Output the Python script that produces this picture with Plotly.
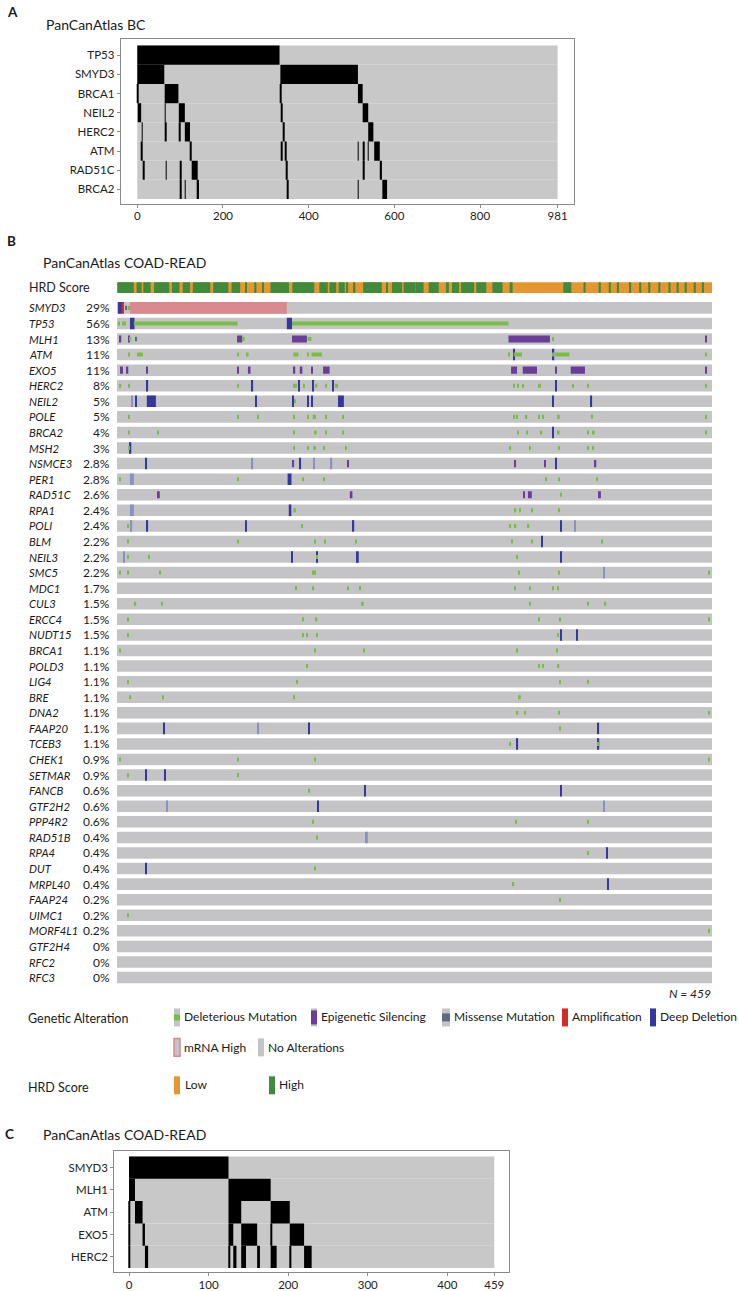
import plotly.graph_objects as go

W, H = 739, 1291
FONT = "Lato"

# ---------------- Panel A data (PanCanAtlas BC, 981 samples) ----------------
a_genes = ["TP53", "SMYD3", "BRCA1", "NEIL2", "HERC2", "ATM", "RAD51C", "BRCA2"]
a_n = 981
a_ticks = [0, 200, 400, 600, 800, 981]
# altered sample runs: (gene, first sample, number of samples)
a_altered = [
    ("TP53", 0, 332),
    ("SMYD3", 0, 63), ("SMYD3", 334, 181),
    ("BRCA1", 0, 1), ("BRCA1", 64, 32), ("BRCA1", 334, 1.5), ("BRCA1", 515, 11),
    ("NEIL2", 1, 8), ("NEIL2", 64, 1.5), ("NEIL2", 97, 14), ("NEIL2", 336, 2), ("NEIL2", 526, 13),
    ("HERC2", 11, 1.5), ("HERC2", 65, 1.5), ("HERC2", 98, 1.5), ("HERC2", 111, 12),
    ("HERC2", 341, 1.5), ("HERC2", 539, 12),
    ("ATM", 10, 1.5), ("ATM", 124, 1.5), ("ATM", 336, 1.5), ("ATM", 345, 1.5),
    ("ATM", 515, 1), ("ATM", 528, 1), ("ATM", 539, 1), ("ATM", 553, 13),
    ("RAD51C", 13, 2), ("RAD51C", 67, 1.5), ("RAD51C", 100, 1.5), ("RAD51C", 127, 14),
    ("RAD51C", 348, 1.5), ("RAD51C", 528, 1), ("RAD51C", 566, 5),
    ("BRCA2", 100, 1.5), ("BRCA2", 111, 1.5), ("BRCA2", 140, 4), ("BRCA2", 350, 2),
    ("BRCA2", 515, 1.5), ("BRCA2", 572, 11),
]

# ---------------- Panel B data (PanCanAtlas COAD-READ oncoprint, 459 samples) ----------------
b_n = 459
b_genes = ["SMYD3", "TP53", "MLH1", "ATM", "EXO5", "HERC2", "NEIL2", "POLE", "BRCA2", "MSH2",
           "NSMCE3", "PER1", "RAD51C", "RPA1", "POLI", "BLM", "NEIL3", "SMC5", "MDC1", "CUL3",
           "ERCC4", "NUDT15", "BRCA1", "POLD3", "LIG4", "BRE", "DNA2", "FAAP20", "TCEB3", "CHEK1",
           "SETMAR", "FANCB", "GTF2H2", "PPP4R2", "RAD51B", "RPA4", "DUT", "MRPL40", "FAAP24",
           "UIMC1", "MORF4L1", "GTF2H4", "RFC2", "RFC3"]
b_pct = ["29%", "56%", "13%", "11%", "11%", "8%", "5%", "5%", "4%", "3%",
         "2.8%", "2.8%", "2.6%", "2.4%", "2.4%", "2.2%", "2.2%", "2.2%", "1.7%", "1.5%",
         "1.5%", "1.5%", "1.1%", "1.1%", "1.1%", "1.1%", "1.1%", "1.1%", "1.1%", "0.9%",
         "0.9%", "0.6%", "0.6%", "0.6%", "0.4%", "0.4%", "0.4%", "0.4%", "0.2%",
         "0.2%", "0.2%", "0%", "0%", "0%"]

# HRD score track: runs of "High" samples (start, length); the rest are "Low"
hrd_high_start = [0.4, 15.1, 20.3, 28.6, 42.4, 50.7, 58.5, 74.2, 88.4, 98.9, 105.9, 111.9,
                  118.4, 135.3, 156.1, 163.9, 171, 177, 182.7, 189.9, 207.6, 212.1, 221.1,
                  230.3, 240.4, 253.7, 258.4, 265.4, 277.1, 289.6, 302.9,
                  344.3, 359.9, 371.6, 379.4, 385.6, 395, 402.8, 409.8, 417.6, 425.4, 431.7,
                  437.9, 444.9, 451.2]
hrd_high_len = [12.6, 3.9, 5.7, 11.7, 5.8, 5.7, 13.5, 11.7, 6.6, 1.3, 1.6, 1.3,
                14.3, 16.9, 6.5, 5.2, 4.7, 1.3, 1.2, 14.4, 1.2, 7.8, 9.1,
                6.2, 7.8, 2.3, 5.5, 10.1, 7.8, 7.8, 2.3,
                6.2, 1.6, 1.6, 1.6, 1.6, 1.6, 1.6, 1.6, 1.6, 1.6, 1.6,
                1.6, 1.6, 1.6]

# alterations: (gene, first sample, number of samples)
mrna_high = [("SMYD3", 10, 121)]
amplification = [("SMYD3", 3.9, 1.5)]
missense = [("SMYD3", 6.2, 1.6), ("MLH1", 14, 1)]
epigenetic = [
    ("MLH1", 2.3, 1), ("MLH1", 8.5, 1), ("MLH1", 92.6, 4), ("MLH1", 135, 11.5), ("MLH1", 302, 32),
    ("MLH1", 453.6, 1),
    ("EXO5", 2.3, 2.3), ("EXO5", 7.7, 1), ("EXO5", 22.4, 1), ("EXO5", 93, 1), ("EXO5", 101, 2),
    ("EXO5", 136, 1.5), ("EXO5", 141, 2), ("EXO5", 150, 1), ("EXO5", 159, 5), ("EXO5", 304, 4.6),
    ("EXO5", 313, 11), ("EXO5", 338, 1), ("EXO5", 350, 11), ("EXO5", 453.6, 1),
    ("NSMCE3", 135.6, 1), ("NSMCE3", 177.5, 1.5), ("NSMCE3", 306.6, 1), ("NSMCE3", 329.6, 1),
    ("NSMCE3", 368.7, 1),
    ("RAD51C", 31.5, 1.5), ("RAD51C", 179.6, 2), ("RAD51C", 313.6, 1), ("RAD51C", 317, 3),
    ("RAD51C", 371.8, 1.5),
]
deep_deletion = [
    ("SMYD3", 0.8, 3), ("TP53", 10, 3.5), ("TP53", 131, 4),
    ("ATM", 305.5, 1), ("ATM", 336.3, 1),
    ("HERC2", 23, 1), ("HERC2", 104, 1), ("HERC2", 140, 1), ("HERC2", 151, 1), ("HERC2", 166, 1),
    ("HERC2", 338, 1),
    ("NEIL2", 14, 1), ("NEIL2", 23, 7), ("NEIL2", 106.5, 1), ("NEIL2", 135, 1), ("NEIL2", 147, 1),
    ("NEIL2", 150, 1), ("NEIL2", 170.5, 4.5), ("NEIL2", 336, 1), ("NEIL2", 365, 1.5),
    ("BRCA2", 336, 1), ("MSH2", 10, 1),
    ("NSMCE3", 22, 1), ("NSMCE3", 141, 1), ("NSMCE3", 338, 1),
    ("PER1", 131.6, 3), ("RPA1", 132.5, 2),
    ("POLI", 23, 1), ("POLI", 98.8, 1), ("POLI", 182, 1), ("POLI", 342, 1),
    ("BLM", 327.4, 1),
    ("NEIL3", 134.6, 1), ("NEIL3", 153.6, 1), ("NEIL3", 185, 1.5), ("NEIL3", 342, 1),
    ("NUDT15", 342, 1), ("NUDT15", 354.3, 1),
    ("FAAP20", 36, 1), ("FAAP20", 147.5, 1), ("FAAP20", 370.9, 1),
    ("TCEB3", 308.4, 1), ("TCEB3", 371, 1),
    ("SETMAR", 22, 1), ("SETMAR", 36.7, 1),
    ("FANCB", 191, 1), ("FANCB", 342, 1),
    ("GTF2H2", 154.5, 1), ("RPA4", 377.3, 1), ("DUT", 22, 1), ("MRPL40", 378.5, 1),
]
deep_deletion_faint = [
    ("NEIL2", 10.8, 1.5), ("NSMCE3", 104, 1), ("NSMCE3", 151.5, 1), ("NSMCE3", 165, 1),
    ("PER1", 10, 3), ("RPA1", 10, 3), ("POLI", 10.7, 1), ("POLI", 352.8, 1), ("NEIL3", 5.2, 1),
    ("SMC5", 375.5, 1), ("FAAP20", 108.6, 1), ("GTF2H2", 38, 1), ("GTF2H2", 375.5, 1),
    ("RAD51B", 192, 1.5),
]
deleterious = [
    ("SMYD3", 8.5, 1),
    ("TP53", 1, 1), ("TP53", 4, 1), ("TP53", 6, 1), ("TP53", 13, 80), ("TP53", 135, 167),
    ("MLH1", 10, 1), ("MLH1", 97, 1.5), ("MLH1", 147, 3), ("MLH1", 335.6, 1),
    ("ATM", 8.5, 1), ("ATM", 15.4, 4.6), ("ATM", 92.6, 1), ("ATM", 100, 1.5), ("ATM", 136, 4),
    ("ATM", 146.6, 1), ("ATM", 150, 8), ("ATM", 302, 1), ("ATM", 306, 6.4), ("ATM", 335.6, 1),
    ("ATM", 338, 11), ("ATM", 454, 1),
    ("HERC2", 2.3, 1), ("HERC2", 8.5, 1), ("HERC2", 92.6, 1), ("HERC2", 136, 1), ("HERC2", 137.5, 1),
    ("HERC2", 144, 1), ("HERC2", 153.5, 1), ("HERC2", 160.5, 1.5), ("HERC2", 168, 2.5),
    ("HERC2", 306, 1), ("HERC2", 309, 1), ("HERC2", 313, 1), ("HERC2", 325.5, 1.5), ("HERC2", 351, 1),
    ("HERC2", 362.6, 1.5), ("HERC2", 454, 1),
    ("NEIL2", 137, 1),
    ("POLE", 8.5, 1), ("POLE", 93, 1), ("POLE", 108, 1), ("POLE", 136, 1), ("POLE", 146.6, 1),
    ("POLE", 151, 2.5), ("POLE", 160.5, 1), ("POLE", 174, 1), ("POLE", 305.5, 1), ("POLE", 308, 1),
    ("POLE", 315.5, 1), ("POLE", 325, 1), ("POLE", 328, 1), ("POLE", 339.5, 2), ("POLE", 366, 1),
    ("POLE", 454, 1),
    ("BRCA2", 8.5, 1), ("BRCA2", 31, 1), ("BRCA2", 136, 1), ("BRCA2", 152, 2), ("BRCA2", 160.5, 1),
    ("BRCA2", 174, 1), ("BRCA2", 308.6, 1), ("BRCA2", 316, 1), ("BRCA2", 327, 1), ("BRCA2", 340, 1.5),
    ("BRCA2", 362.6, 1), ("BRCA2", 367, 1.5), ("BRCA2", 454, 1),
    ("MSH2", 9, 1), ("MSH2", 136, 1), ("MSH2", 147, 1), ("MSH2", 151.5, 2), ("MSH2", 159, 1),
    ("MSH2", 176, 1), ("MSH2", 303, 1), ("MSH2", 318, 1), ("MSH2", 340.6, 1), ("MSH2", 362.6, 1),
    ("MSH2", 367, 1),
    ("PER1", 2, 1), ("PER1", 93, 1), ("PER1", 143, 1), ("PER1", 159, 1), ("PER1", 330.5, 1),
    ("PER1", 340.6, 1), ("PER1", 370, 1),
    ("RAD51C", 342, 1),
    ("RPA1", 136, 2), ("RPA1", 307, 1), ("RPA1", 310.6, 1), ("RPA1", 320, 1), ("RPA1", 340.6, 1),
    ("POLI", 8, 1), ("POLI", 142, 1), ("POLI", 303, 1), ("POLI", 307, 1), ("POLI", 317, 1),
    ("BLM", 8, 1), ("BLM", 92.7, 1), ("BLM", 152, 1), ("BLM", 160, 1), ("BLM", 183.6, 1.5),
    ("BLM", 304.5, 1), ("BLM", 320, 1), ("BLM", 374, 1),
    ("NEIL3", 8, 1), ("NEIL3", 24, 1), ("NEIL3", 153.6, 1), ("NEIL3", 308.4, 1),
    ("SMC5", 2, 1), ("SMC5", 8, 1), ("SMC5", 33, 1), ("SMC5", 150.5, 1), ("SMC5", 152, 1),
    ("SMC5", 309.7, 1), ("SMC5", 340.6, 1), ("SMC5", 456, 1),
    ("MDC1", 137.7, 1), ("MDC1", 150.5, 1), ("MDC1", 177.5, 1), ("MDC1", 187, 1), ("MDC1", 306.6, 1),
    ("MDC1", 318, 1), ("MDC1", 335.7, 1), ("MDC1", 339.7, 1),
    ("CUL3", 13.8, 1), ("CUL3", 34.3, 1), ("CUL3", 188.8, 1.5), ("CUL3", 318, 1), ("CUL3", 362.6, 1),
    ("CUL3", 376.4, 1),
    ("ERCC4", 8, 1), ("ERCC4", 143, 1), ("ERCC4", 153, 1.5), ("ERCC4", 325, 1), ("ERCC4", 341, 1),
    ("ERCC4", 456, 1),
    ("NUDT15", 8, 1), ("NUDT15", 143, 1), ("NUDT15", 146, 1), ("NUDT15", 153.6, 1), ("NUDT15", 339.7, 1),
    ("BRCA1", 2, 1), ("BRCA1", 152, 1), ("BRCA1", 190, 1), ("BRCA1", 308.4, 1), ("BRCA1", 339, 1),
    ("POLD3", 146, 1), ("POLD3", 325, 1), ("POLD3", 328, 1), ("POLD3", 339.7, 1.5),
    ("LIG4", 8, 1), ("LIG4", 138.6, 1), ("LIG4", 341, 1), ("LIG4", 362.6, 1),
    ("BRE", 10, 1), ("BRE", 35, 1), ("BRE", 136, 1), ("BRE", 310, 1.5),
    ("DNA2", 308, 1.5), ("DNA2", 314, 1), ("DNA2", 340.6, 1), ("DNA2", 456, 1),
    ("FAAP20", 341, 1),
    ("TCEB3", 303, 1), ("TCEB3", 371, 1),
    ("CHEK1", 2, 1), ("CHEK1", 93, 1), ("CHEK1", 152, 1), ("CHEK1", 456, 1),
    ("SETMAR", 8, 1), ("SETMAR", 93, 1),
    ("FANCB", 148, 1),
    ("PPP4R2", 151, 1), ("PPP4R2", 307.5, 1), ("PPP4R2", 362.6, 1),
    ("RAD51B", 153.6, 1), ("RPA4", 362.6, 1), ("DUT", 152, 1), ("MRPL40", 305.4, 1),
    ("FAAP24", 341, 1), ("UIMC1", 8, 1), ("MORF4L1", 456, 1),
]

# ---------------- Panel C data (PanCanAtlas COAD-READ, 459 samples) ----------------
c_genes = ["SMYD3", "MLH1", "ATM", "EXO5", "HERC2"]
c_n = 459
c_ticks = [0, 100, 200, 300, 400, 459]
c_altered = [
    ("SMYD3", 0, 125),
    ("MLH1", 0, 7.5), ("MLH1", 125, 53),
    ("ATM", 0, 1), ("ATM", 7.5, 9.5), ("ATM", 125, 16), ("ATM", 178, 24),
    ("EXO5", 0, 1), ("EXO5", 17, 3), ("EXO5", 125, 6), ("EXO5", 141, 20), ("EXO5", 178, 2),
    ("EXO5", 202, 18),
    ("HERC2", 0, 1), ("HERC2", 20, 4), ("HERC2", 125, 1.5), ("HERC2", 131, 4), ("HERC2", 141, 6),
    ("HERC2", 161, 3.5), ("HERC2", 178, 7.5), ("HERC2", 202, 2), ("HERC2", 220, 9.5),
]

# ---------------- styling ----------------
GRAY_A = "#C8C8C8"
GRAY_B = "#C4C4C6"
GREEN = "#78BE43"
PURPLE = "#6A3D9A"
BLUE = "#35379E"
BLUE_FAINT = "#8C8EC4"
RED = "#D32A2A"
PINK = "#DA8A8F"
SLATE = "#5F6B7D"
HRD_LOW = "#E6962E"
HRD_HIGH = "#3F8B3A"


def px(x):
    return x / W


def py(y):
    return 1 - y / H


fig = go.Figure()


def add_bars(items, genes, color, thick, xa, ya, opacity=1.0):
    gi = {g: i for i, g in enumerate(genes)}
    fig.add_trace(go.Bar(
        orientation="h",
        y=[gi[g] for g, _, _ in items],
        base=[s for _, s, _ in items],
        x=[n for _, _, n in items],
        width=thick,
        marker=dict(color=color, line=dict(width=0)),
        opacity=opacity,
        xaxis=xa, yaxis=ya, showlegend=False, hoverinfo="skip",
    ))


# Panel A
add_bars([(g, 0, a_n) for g in a_genes], a_genes, GRAY_A, 1.0, "x", "y")
add_bars(a_altered, a_genes, "#000000", 1.0, "x", "y")

# Panel B: HRD track
fig.add_trace(go.Bar(orientation="h", y=[-1.3], base=[0], x=[b_n], width=0.68,
                     marker=dict(color=HRD_LOW, line=dict(width=0)),
                     xaxis="x3", yaxis="y2", showlegend=False, hoverinfo="skip"))
fig.add_trace(go.Bar(orientation="h", y=[-1.3] * len(hrd_high_start), base=hrd_high_start,
                     x=hrd_high_len, width=0.68, marker=dict(color=HRD_HIGH, line=dict(width=0)),
                     xaxis="x3", yaxis="y2", showlegend=False, hoverinfo="skip"))
# Panel B: gene rows
add_bars([(g, 0, b_n) for g in b_genes], b_genes, GRAY_B, 0.74, "x2", "y2")
add_bars(mrna_high, b_genes, PINK, 0.74, "x2", "y2")
add_bars(epigenetic, b_genes, PURPLE, 0.46, "x2", "y2")
add_bars(deep_deletion_faint, b_genes, BLUE_FAINT, 0.74, "x2", "y2")
add_bars(deep_deletion, b_genes, BLUE, 0.74, "x2", "y2")
add_bars(amplification, b_genes, RED, 0.74, "x2", "y2")
add_bars(missense, b_genes, SLATE, 0.28, "x2", "y2")
add_bars(deleterious, b_genes, GREEN, 0.26, "x2", "y2")

# Panel C
add_bars([(g, 0, c_n) for g in c_genes], c_genes, GRAY_A, 1.0, "x4", "y4")
add_bars(c_altered, c_genes, "#000000", 1.0, "x4", "y4")

frame = dict(showline=True, mirror=True, linecolor="#8A8A8A", linewidth=1,
             showgrid=False, zeroline=False, ticks="outside", ticklen=3, tickcolor="#8A8A8A",
             tickfont=dict(family=FONT, size=11.5, color="#222222"))
hidden = dict(visible=False, showgrid=False, zeroline=False)

fig.update_layout(
    width=W, height=H, margin=dict(l=0, r=0, t=0, b=0),
    paper_bgcolor="white", plot_bgcolor="white", barmode="overlay",
    font=dict(family=FONT, color="#222222"),
    xaxis=dict(domain=[px(120.7), px(574.3)], range=[-38.7, 1020], anchor="y",
               tickvals=a_ticks, ticklabelstandoff=-1, **frame),
    yaxis=dict(domain=[py(204), py(39.3)], range=[7.745, -0.833], anchor="x",
               tickvals=list(range(len(a_genes))), ticktext=a_genes, **frame),
    xaxis2=dict(domain=[px(117), px(712)], range=[0, b_n], anchor="y2", **hidden),
    yaxis2=dict(domain=[py(986.9), py(278.7)], range=[43.5, -1.9], anchor="x2", **hidden),
    xaxis3=dict(domain=[px(117), px(705)], range=[0, b_n], anchor="y2", overlaying="x2", **hidden),
    xaxis4=dict(domain=[px(114.3), px(509)], range=[-18.5, 477.5], anchor="y4",
                tickvals=c_ticks, ticklabelstandoff=-1, **frame),
    yaxis4=dict(domain=[py(1274), py(1152.7)], range=[4.68, -0.75], anchor="x4",
                tickvals=list(range(len(c_genes))), ticktext=c_genes, **frame),
)

ann = []


def text(x, y, s, size=11, anchor="left", bold=False, italic=False, yref="paper"):
    if bold:
        s = "<b>" + s + "</b>"
    if italic:
        s = "<i>" + s + "</i>"
    ann.append(dict(x=px(x), y=py(y) if yref == "paper" else y, xref="paper", yref=yref,
                    text=s, showarrow=False, xanchor=anchor, yanchor="middle",
                    font=dict(family=FONT, size=size, color="#1a1a1a")))


# titles
text(5, 12, "A", 13.5, bold=True)
text(44, 25, "PanCanAtlas BC", 14)
text(5, 241, "B", 13.5, bold=True)
text(41, 263, "PanCanAtlas COAD-READ", 14)
text(3, 1136, "C", 13.5, bold=True)
text(41, 1136, "PanCanAtlas COAD-READ", 14)

# panel B row labels
text(27, -1.3, "HRD Score", 12.5, yref="y2")
for i, (g, p) in enumerate(zip(b_genes, b_pct)):
    text(27, i, g, 11.3, italic=True, yref="y2")
    text(112, i, p, 12, anchor="right", yref="y2")

text(713, 995, "N = 459", 12, anchor="right", italic=True)

# legend
shapes = []


def rect(x0, y0, x1, y1, color, line=None):
    shapes.append(dict(type="rect", xref="paper", yref="paper", x0=px(x0), x1=px(x1),
                       y0=py(y1), y1=py(y0), fillcolor=color,
                       line=dict(width=0) if line is None else line, layer="above"))


text(26, 1020, "Genetic Alteration", 12.5)
text(26, 1089, "HRD Score", 12.5)

leg1 = [(174, "Deleterious Mutation", "mut"), (311, "Epigenetic Silencing", "epi"),
        (442, "Missense Mutation", "mis"), (562, "Amplification", "amp"),
        (650, "Deep Deletion", "del")]
for x0, lab, kind in leg1:
    w = 6
    if kind == "mut":
        rect(x0, 1010, x0 + w, 1028, GRAY_B)
        rect(x0, 1016, x0 + w, 1022, GREEN)
    elif kind == "epi":
        rect(x0, 1010, x0 + w, 1028, GRAY_B)
        rect(x0, 1012, x0 + w, 1026, PURPLE)
    elif kind == "mis":
        w = 8
        rect(x0, 1010, x0 + w, 1028, GRAY_B)
        rect(x0, 1015, x0 + w, 1023, SLATE)
    elif kind == "amp":
        rect(x0, 1010, x0 + w, 1028, RED)
    else:
        rect(x0, 1010, x0 + w, 1028, BLUE)
    text(x0 + w + 2, 1018.5, lab, 12)

rect(174, 1040, 180, 1058, GRAY_B, line=dict(color=PINK, width=1.5))
text(182, 1049, "mRNA High", 12)
rect(258, 1040, 264, 1058, GRAY_B)
text(266, 1049, "No Alterations", 12)

rect(174, 1078, 180, 1096, HRD_LOW)
text(183, 1086, "Low", 12)
rect(269, 1078, 275, 1096, HRD_HIGH)
text(277, 1086, "High", 12)

fig.update_layout(annotations=ann, shapes=shapes)
fig.write_html("out.html", config={"displayModeBar": False},
               post_script="document.body.style.margin='0';document.body.style.overflow='hidden';")
